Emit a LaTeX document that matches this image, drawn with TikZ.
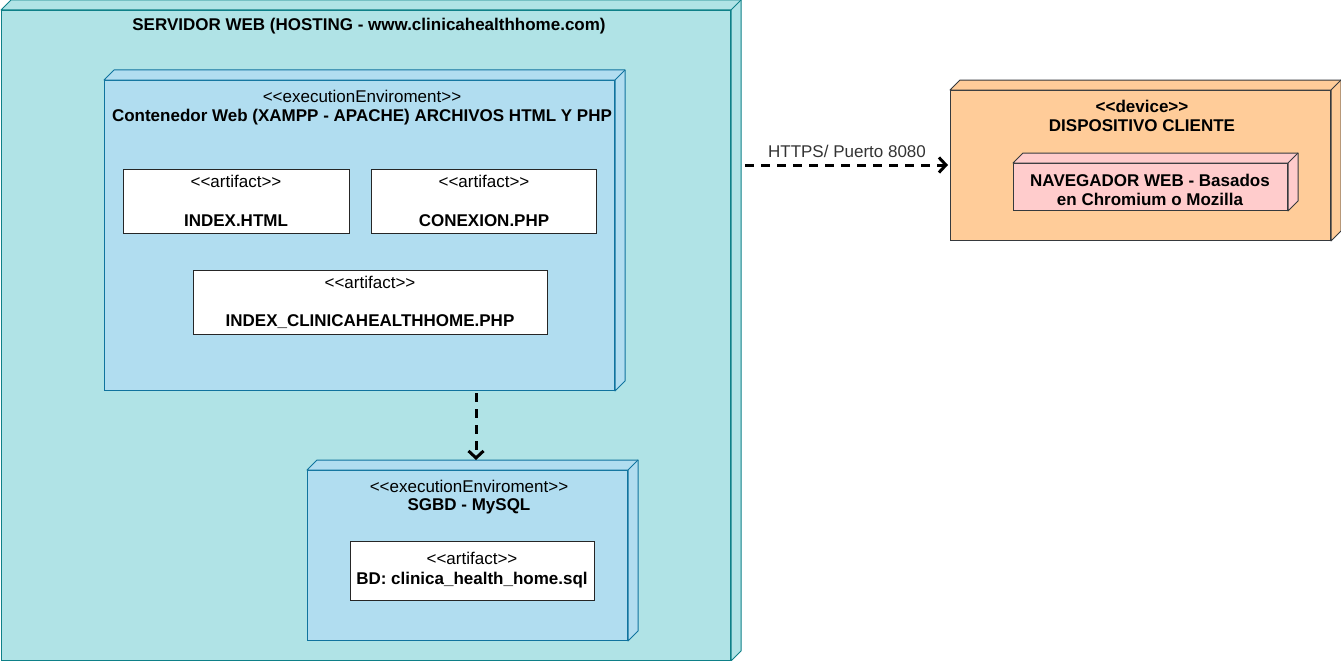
\documentclass[tikz,border=0pt]{standalone}
\usepackage{fontspec}
\setmainfont{Liberation Sans}
\usetikzlibrary{arrows.meta}
\definecolor{tealF}{HTML}{B0E3E6}
\definecolor{tealD}{HTML}{0E8088}
\definecolor{blueF}{HTML}{B1DDF0}
\definecolor{blueD}{HTML}{10739E}
\definecolor{orangeF}{HTML}{FFCC99}
\definecolor{greyD}{HTML}{36393D}
\definecolor{pinkF}{HTML}{FFCCCC}
\newcommand{\stL}{<\kern0pt<}
\newcommand{\stR}{>\kern0pt>}
\tikzset{
  cubebox/.style={rectangle, anchor=north west, inner sep=0pt, line width=1pt},
  artbox/.style={draw=black!85, fill=white, rectangle, anchor=north west, inner sep=0pt, line width=1pt},
  txt/.style={inner sep=0pt, align=center, font=\fontsize{17}{19}\selectfont},
  btxt/.style={inner sep=0pt, align=center, font=\fontsize{17}{19}\selectfont\bfseries},
  depline/.style={line width=3pt, dash pattern=on 9pt off 7pt, -{Straight Barb[length=7pt,width=15pt,line width=3pt]}}
}
\newcommand{\cubeside}[3]{%
  \filldraw[fill=#2, draw=#3, line width=1pt, line join=round]
    (#1.north west) -- ++(10,-10) -- ([xshift=10pt,yshift=10pt]#1.north east)
    -- ([xshift=10pt,yshift=10pt]#1.south east) -- (#1.south east) -- (#1.north east) -- cycle;
  \draw[draw=#3, line width=1pt] (#1.north east) -- ++(10,-10);}
\begin{document}
\begin{tikzpicture}[x=1pt, y=-1pt]
\useasboundingbox (0,0) rectangle (1341,661);

% Server
\node[cubebox, draw=tealD, fill=tealF, minimum width=729pt, minimum height=650pt] (srv) at (1,10) {};
\cubeside{srv}{tealF}{tealD}
\node[btxt] (srvT) at (369,26) {SERVIDOR WEB (HOSTING - www.clinicahealthhome.com)};

% Web container
\node[cubebox, draw=blueD, fill=blueF, minimum width=510pt, minimum height=310pt] (cont) at (104,80) {};
\cubeside{cont}{blueF}{blueD}
\node[txt] (contS) at (362,96) {\stL executionEnviroment\stR};
\node[btxt] (contT) at (362,117) {Contenedor Web (XAMPP - APACHE) ARCHIVOS HTML Y PHP};

\node[artbox, minimum width=226pt, minimum height=64pt] (aIdx) at (123,169) {};
\node[txt] (aIdxS) at (236,181) {\stL artifact\stR};
\node[btxt] (aIdxT) at (236,221) {INDEX.HTML};

\node[artbox, minimum width=225pt, minimum height=64pt] (aCon) at (371,169) {};
\node[txt] (aConS) at (484,181) {\stL artifact\stR};
\node[btxt] (aConT) at (484,221) {CONEXION.PHP};

\node[artbox, minimum width=354pt, minimum height=64pt] (aCh) at (193,270) {};
\node[txt] (aChS) at (370,282) {\stL artifact\stR};
\node[btxt] (aChT) at (370,322) {INDEX\_CLINICAHEALTHHOME.PHP};

% SGBD
\node[cubebox, draw=blueD, fill=blueF, minimum width=320pt, minimum height=170pt] (sgbd) at (307,470) {};
\cubeside{sgbd}{blueF}{blueD}
\node[txt] (sgbdS) at (469,486) {\stL executionEnviroment\stR};
\node[btxt] (sgbdT) at (469,506) {SGBD - MySQL};

\node[artbox, minimum width=244pt, minimum height=59pt] (aBd) at (350,541) {};
\node[txt] (aBdS) at (472,558) {\stL artifact\stR};
\node[btxt] (aBdT) at (472,580) {BD: clinica\_health\_home.sql};

% Device
\node[cubebox, draw=greyD, fill=orangeF, minimum width=380pt, minimum height=150pt] (dev) at (950,90) {};
\cubeside{dev}{orangeF}{greyD}
\node[btxt] (devS) at (1142,106) {\stL device\stR};
\node[btxt] (devT) at (1142,126) {DISPOSITIVO CLIENTE};

\node[cubebox, draw=greyD, fill=pinkF, minimum width=274pt, minimum height=47pt] (nav) at (1013,163) {};
\cubeside{nav}{pinkF}{greyD}
\node[btxt] (navT) at (1150,190) {NAVEGADOR WEB - Basados\\en Chromium o Mozilla};

% Connectors
\coordinate (httpsStart) at (745,165);
\draw[depline] (httpsStart) -- ([xshift=-2pt]dev.west |- httpsStart);
\node[txt, text=black!80] (httpsL) at (847,151) {HTTPS/ Puerto 8080};

\coordinate (dbStart) at (476,393);
\draw[depline] (dbStart) -- ([yshift=10pt]sgbd.north -| dbStart);
\end{tikzpicture}
\end{document}
